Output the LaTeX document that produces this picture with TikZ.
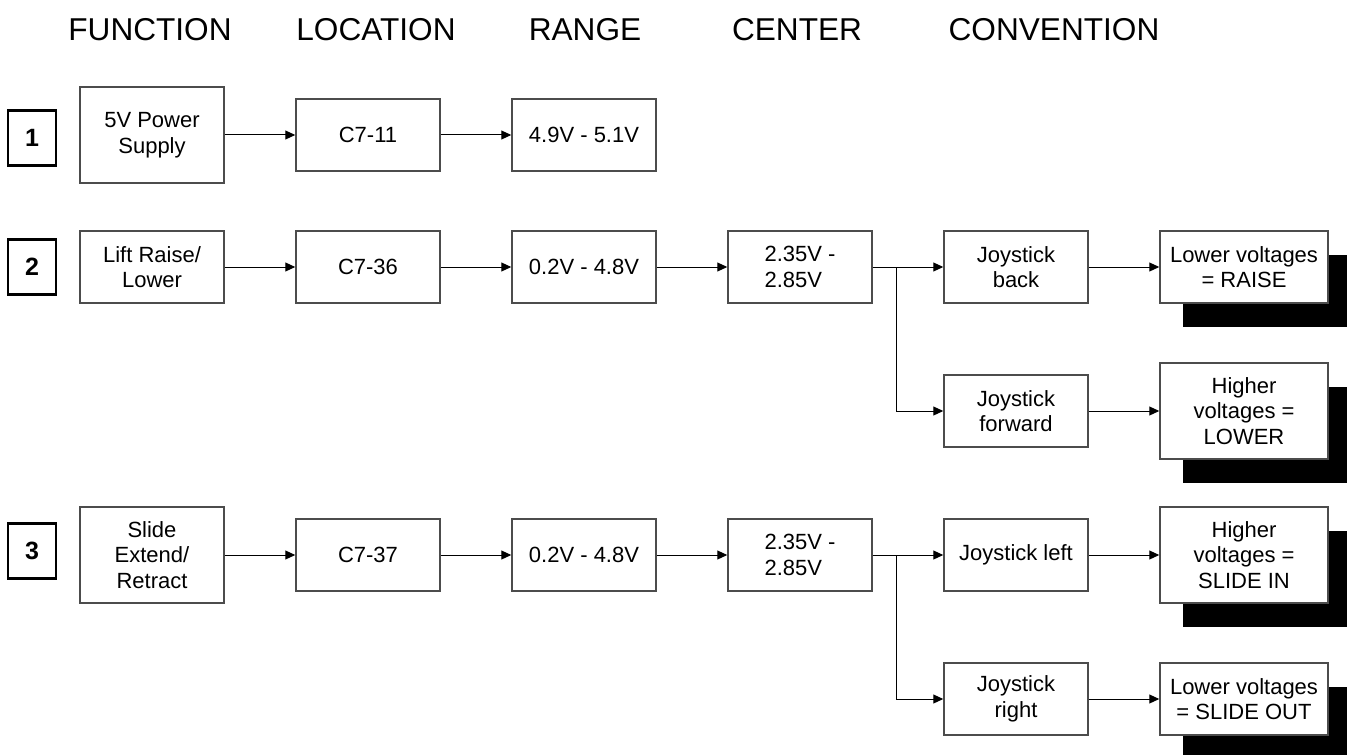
\documentclass[tikz,border=0pt]{standalone}
\usepackage{fontspec}
\setmainfont{Liberation Sans}
\usetikzlibrary{arrows.meta,shadows}

\tikzset{
	blk/.style={draw=black!70, line width=0.75pt, fill=white, minimum width=72pt, minimum height=36pt, inner sep=1pt, align=center, font=\fontsize{11}{12.8}\selectfont},
	tallblk/.style={blk, minimum height=48pt},
	convblk/.style={blk, minimum width=84pt, drop shadow={shadow xshift=11.5pt, shadow yshift=-12pt, fill=black, opacity=1}},
	numblk/.style={draw=black, line width=1.2pt, minimum width=24pt, minimum height=27.5pt, inner sep=0pt, font=\fontsize{12.5}{14}\selectfont\bfseries},
	hdr/.style={font=\fontsize{15.8}{18}\selectfont},
	arr/.style={-{Triangle[length=5pt,width=4.5pt]}, line width=0.5pt},
}

\begin{document}
\begin{tikzpicture}[x=0.5pt, y=-0.5pt]
			%%%%% START %%%%%
			\useasboundingbox (0,0) rectangle (1347,754);
			
			\node[hdr] (hfunc) at (150,30) {FUNCTION};
			\node[hdr] (hloc) at (376,30) {LOCATION};
			\node[hdr] (hrange) at (585,30) {RANGE};
			\node[hdr] (hctr) at (797,30) {CENTER};
			\node[hdr] (hconv) at (1054,30) {CONVENTION};
			
			% 1
			\node[numblk] (num1) at (32,138) {1};
			\node[tallblk] (pwr) at (152,135) {5V Power\\Supply};
			\node[blk] (loc1) at (368,135) {C7-11};
			\node[blk] (rng1) at (584,135) {4.9V - 5.1V};
			
			\draw[arr] (pwr) -- (loc1);
			\draw[arr] (loc1) -- (rng1);
			
			% 2
			\node[numblk] (num2) at (32,267) {2};
			\node[blk] (lift) at (152,267) {Lift Raise/\\Lower};
			\node[blk] (loc2) at (368,267) {C7-36};
			\node[blk] (rng2) at (584,267) {0.2V - 4.8V};
			\node[blk, align=left] (ctr2) at (800,267) {2.35V -\\2.85V};
			\node[blk] (jback) at (1016,267) {Joystick\\back};
			\node[convblk] (raise) at (1244,267) {Lower voltages\\= RAISE};
			\node[blk] (jfwd) at (1016,411) {Joystick\\forward};
			\node[convblk, minimum height=48pt] (lower) at (1244,411) {Higher\\voltages =\\LOWER};
			
			\draw[arr] (lift) -- (loc2);
			\draw[arr] (loc2) -- (rng2);
			\draw[arr] (rng2) -- (ctr2);
			\draw[arr] (ctr2) -- (jback);
			\draw[arr] (ctr2.east) -- ++(24,0) |- (jfwd.west);
			\draw[arr] (jback) -- (raise);
			\draw[arr] (jfwd) -- (lower);
			
			% 3
			\node[numblk] (num3) at (32,551) {3};
			\node[tallblk] (slide) at (152,555) {Slide\\Extend/\\Retract};
			\node[blk] (loc3) at (368,555) {C7-37};
			\node[blk] (rng3) at (584,555) {0.2V - 4.8V};
			\node[blk, align=left] (ctr3) at (800,555) {2.35V -\\2.85V};
			\node[blk] (jleft) at (1016,555) {Joystick left};
			\node[convblk, minimum height=48pt] (slidein) at (1244,555) {Higher\\voltages =\\SLIDE IN};
			\node[blk] (jright) at (1016,699) {Joystick\\right};
			\node[convblk] (slideout) at (1244,699) {Lower voltages\\= SLIDE OUT};
			
			\draw[arr] (slide) -- (loc3);
			\draw[arr] (loc3) -- (rng3);
			\draw[arr] (rng3) -- (ctr3);
			\draw[arr] (ctr3) -- (jleft);
			\draw[arr] (ctr3.east) -- ++(24,0) |- (jright.west);
			\draw[arr] (jleft) -- (slidein);
			\draw[arr] (jright) -- (slideout);
			
			%%%%% END %%%%%
\end{tikzpicture}
\end{document}
